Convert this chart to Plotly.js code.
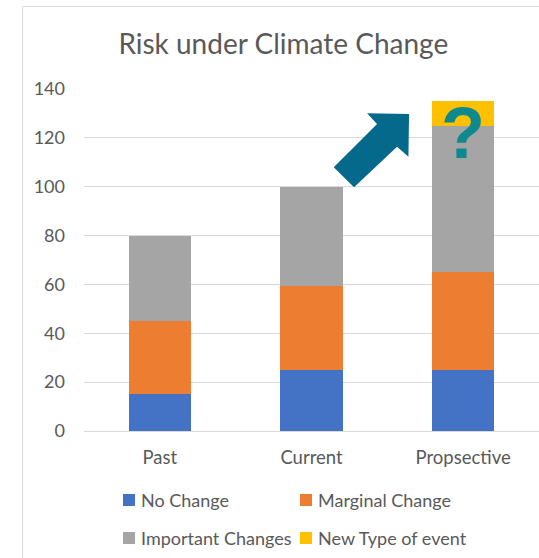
<!DOCTYPE html>
<html>
<head>
<meta charset="utf-8">
<script src="https://cdn.plot.ly/plotly-3.0.1.min.js"></script>
<style>
  html, body { margin: 0; padding: 0; background: #fff; }
  #chart { width: 539px; height: 558px; }
</style>
</head>
<body>
<div id="chart"></div>
<script>
// Risk levels per period, stacked by type of change
const categories = ['Past', 'Current', 'Propsective'];
const noChange = [15, 25, 25];
const marginalChange = [30, 34.5, 40];
const importantChanges = [35, 40.5, 60];
const newTypeOfEvent = [null, null, 10];
const seriesNames = ['No Change', 'Marginal Change', 'Important Changes', 'New Type of event'];
const seriesColors = ['#4472C4', '#ED7D31', '#A5A5A5', '#FFC000'];
const yTicks = [0, 20, 40, 60, 80, 100, 120, 140];

const FONT = 'Lato, "Liberation Sans", sans-serif';
const TEXT_GREY = '#595959';

const W = 539, H = 558;
const M = { l: 84, r: 0, t: 89, b: 127 };
const plotW = W - M.l - M.r;
const plotH = H - M.t - M.b;
// page pixel -> paper fraction
const px = v => (v - M.l) / plotW;
const py = v => (H - M.b - v) / plotH;

const seriesValues = [noChange, marginalChange, importantChanges, newTypeOfEvent];

const traces = seriesValues.map((vals, i) => ({
  type: 'bar',
  name: seriesNames[i],
  x: categories,
  y: vals,
  marker: { color: seriesColors[i], line: { width: 0 } },
  showlegend: false,
  hoverinfo: 'skip'
}));

// two-column legend below the axis: swatch + label per series
const legendShapes = [];
const legendLabels = [];
seriesNames.forEach((name, i) => {
  const col = i % 2, row = Math.floor(i / 2);
  const left = 123 + col * 177;
  const cy = 500 + row * 38;
  legendShapes.push({
    type: 'rect', xref: 'paper', yref: 'paper',
    x0: px(left), x1: px(left + 12), y0: py(cy + 6), y1: py(cy - 6),
    fillcolor: seriesColors[i], line: { width: 0 }
  });
  legendLabels.push({
    text: name, xref: 'paper', yref: 'paper',
    x: px(left + 16), y: py(cy),
    xanchor: 'left', yanchor: 'middle', showarrow: false,
    font: { family: FONT, size: 18, color: TEXT_GREY }
  });
});

const layout = {
  width: W,
  height: H,
  paper_bgcolor: '#ffffff',
  plot_bgcolor: '#ffffff',
  margin: { l: M.l, r: M.r, t: M.t, b: M.b, pad: 0 },
  barmode: 'stack',
  bargap: 0.59,
  showlegend: false,
  font: { family: FONT, color: TEXT_GREY },
  title: {
    text: 'Risk under Climate Change',
    font: { family: FONT, size: 28, color: TEXT_GREY },
    xref: 'paper',
    x: 0.438,
    xanchor: 'center',
    yref: 'container',
    y: 1 - 44 / H,
    yanchor: 'middle'
  },
  xaxis: {
    type: 'category',
    showgrid: false,
    showline: false,
    ticks: '',
    ticklabelstandoff: 13,
    tickfont: { family: FONT, size: 18.5, color: TEXT_GREY },
    fixedrange: true
  },
  yaxis: {
    range: [0, 140],
    tickvals: yTicks,
    showgrid: true,
    gridcolor: '#d9d9d9',
    gridwidth: 1,
    zeroline: true,
    zerolinecolor: '#d9d9d9',
    zerolinewidth: 1,
    showline: false,
    ticks: '',
    ticklabelstandoff: 18,
    tickfont: { family: FONT, size: 18, color: TEXT_GREY },
    fixedrange: true
  },
  shapes: [
    // chart frame (left and top edges fall inside the page)
    {
      type: 'rect', xref: 'paper', yref: 'paper',
      x0: px(22.5), x1: px(W + 10), y0: py(H + 10), y1: py(6.5),
      line: { color: '#d9d9d9', width: 1 },
      fillcolor: 'rgba(0,0,0,0)',
      layer: 'below'
    },
    // rising-risk arrow
    {
      type: 'path', xref: 'paper', yref: 'paper',
      path: 'M0.5489,0.7711 L0.6440,0.8977 L0.6221,0.9289 L0.7144,0.9269 L0.7130,0.8020 L0.6880,0.8313 L0.5935,0.7126 Z',
      fillcolor: '#05698C',
      line: { width: 0 },
      layer: 'above'
    }
  ].concat(legendShapes),
  annotations: [
    {
      text: '<b>?</b>',
      x: categories[2],
      y: 122,
      xref: 'x',
      yref: 'y',
      showarrow: false,
      xanchor: 'center',
      yanchor: 'middle',
      font: { family: '"Liberation Sans", Arial, sans-serif', size: 72, color: '#0E8A8E' }
    }
  ].concat(legendLabels)
};

Plotly.newPlot('chart', traces, layout, { displayModeBar: false, staticPlot: true });
</script>
</body>
</html>
